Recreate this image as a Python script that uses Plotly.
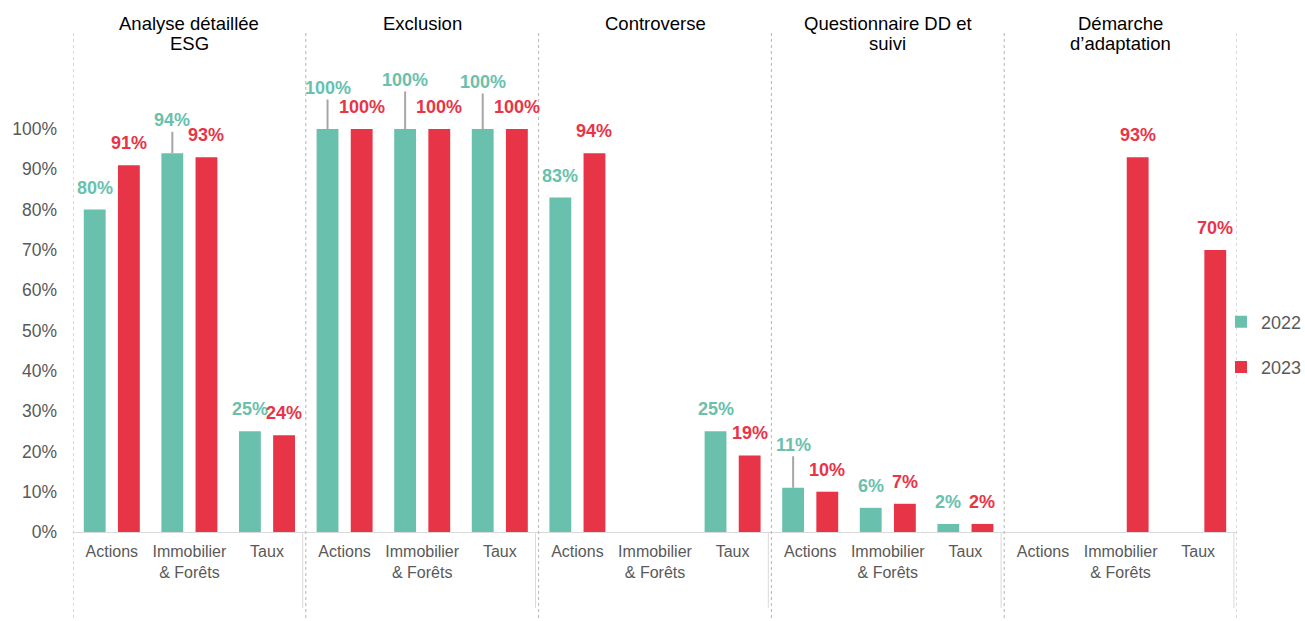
import plotly.graph_objects as go

# Chart data
groups = ["Analyse détaillée<br>ESG", "Exclusion", "Controverse",
          "Questionnaire DD et<br>suivi", "Démarche<br>d’adaptation"]
categories = ["Actions", "Immobilier<br>& Forêts", "Taux"]
values_2022 = [80, 94, 25, 100, 100, 100, 83, None, 25, 11, 6, 2, None, None, None]
values_2023 = [91, 93, 24, 100, 100, 100, 94, None, 19, 10, 7, 2, None, 93, 70]
# extra lift (px) for 2022 labels drawn with a leader line
leader_2022 = [None, 33, None, 41, 49, 47, None, None, None, 43, None, None, None, None, None]

TEAL = "#69C1AD"
RED = "#E83447"
GREY_TXT = "#595959"
FONT = "Liberation Sans, Arial, sans-serif"

BARGAP = 0.12
n_cat = len(categories)
x_pos = [g * n_cat + c for g in range(len(groups)) for c in range(n_cat)]
half = (1 - BARGAP) / 4  # centre offset of each bar within a category

fig = go.Figure()
fig.add_trace(go.Bar(x=x_pos, y=values_2022, name="2022", marker_color=TEAL,
                     marker_line_width=0, legendgroup="a"))
fig.add_trace(go.Bar(x=x_pos, y=values_2023, name="2023", marker_color=RED,
                     marker_line_width=0, legendgroup="b"))

annotations = []
label_font = dict(family=FONT, size=18)
for xp, v, lead in zip(x_pos, values_2022, leader_2022):
    if v is None:
        continue
    if lead:
        annotations.append(dict(x=xp - half, y=v, xref="x", yref="y", text=f"<b>{v}%</b>",
                                showarrow=True, arrowhead=0, arrowwidth=2, arrowcolor="#A6A6A6",
                                ax=0, ay=-lead, standoff=0, font=dict(color=TEAL, **label_font)))
    else:
        annotations.append(dict(x=xp - half, y=v, xref="x", yref="y", text=f"<b>{v}%</b>",
                                showarrow=False, yanchor="middle", yshift=22,
                                font=dict(color=TEAL, **label_font)))
for xp, v in zip(x_pos, values_2023):
    if v is None:
        continue
    annotations.append(dict(x=xp + half, y=v, xref="x", yref="y", text=f"<b>{v}%</b>",
                            showarrow=False, yanchor="middle", yshift=22,
                            font=dict(color=RED, **label_font)))

# Group titles above each block of three categories
for g, title in enumerate(groups):
    for k, line in enumerate(title.split("<br>")):
        annotations.append(dict(x=g * n_cat + 1, y=1, xref="x", yref="paper", text=line,
                                showarrow=False, yanchor="middle", yshift=10 - 20 * k,
                                font=dict(family=FONT, size=18.5, color="#000000")))

# Group separators: dotted full-height lines and solid lines in the label band
shapes = []
plot_bottom = -89 / 499
for g in range(len(groups) + 1):
    xb = g * n_cat - 0.5
    shapes.append(dict(type="line", xref="x", yref="paper", x0=xb, x1=xb, y0=1, y1=plot_bottom - 0.01,
                       line=dict(color="#B5B5B5", width=1, dash="dot")))
    if g > 0:
        shapes.append(dict(type="line", xref="x", yref="paper", x0=xb - 0.04, x1=xb - 0.04,
                           y0=0, y1=-76 / 499, line=dict(color="#D9D9D9", width=1)))

fig.update_layout(
    width=1305, height=621,
    margin=dict(l=73, r=68, t=33, b=89, autoexpand=False),
    paper_bgcolor="white", plot_bgcolor="white",
    barmode="group", bargap=BARGAP, bargroupgap=0.36,
    font=dict(family=FONT, color=GREY_TXT),
    annotations=annotations, shapes=shapes,
    showlegend=True,
    legend=dict(xref="container", yref="container", x=1221 / 1305, xanchor="left",
                y=1 - 344.5 / 621, yanchor="middle", tracegroupgap=19,
                bgcolor="rgba(0,0,0,0)",
                font=dict(family=FONT, size=18, color=GREY_TXT), itemwidth=30),
    xaxis=dict(range=[-0.5, len(x_pos) - 0.5], tickmode="array", tickvals=x_pos,
               ticktext=categories * len(groups), tickfont=dict(family=FONT, size=16, color=GREY_TXT),
               showline=True, linecolor="#D9D9D9", linewidth=1, showgrid=False, zeroline=False,
               ticks="", ticklabelstandoff=5),
    yaxis=dict(range=[0, 499 / 4.03], tickmode="array", tickvals=list(range(0, 101, 10)),
               ticktext=[f"{t}%" for t in range(0, 101, 10)],
               tickfont=dict(family=FONT, size=17.5, color=GREY_TXT),
               showgrid=False, zeroline=False, showline=False, ticks="", ticklabelstandoff=15),
)

fig.write_html("out.html")
